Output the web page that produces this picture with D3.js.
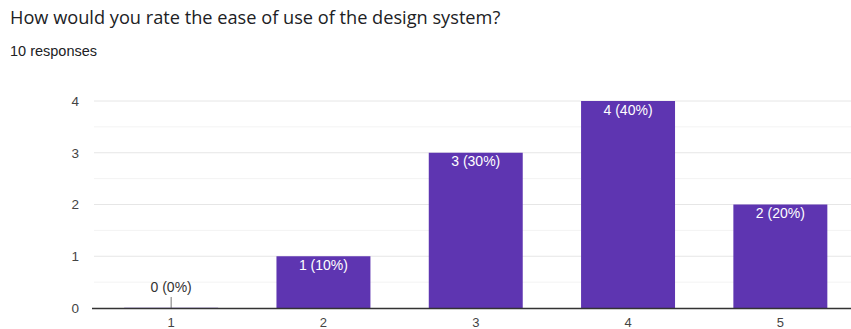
<!DOCTYPE html>
<html>
<head>
<meta charset="utf-8">
<script src="https://cdn.jsdelivr.net/npm/d3@7"></script>
<style>
  body { margin: 0; background: #fff; font-family: "Liberation Sans", Arial, sans-serif; }
  svg { display: block; }
</style>
</head>
<body>
<script>
var width = 851
var height = 329
var font = "'Liberation Sans', Arial, sans-serif"

// data
var ratings = ["1", "2", "3", "4", "5"]
var counts = [0, 1, 3, 4, 2]
var percents = ["0%", "10%", "30%", "40%", "20%"]
var yTicks = [0, 1, 2, 3, 4]

var svg = d3.select("body").append("svg")
    .attr("width", width).attr("height", height)
    .style("font-family", font)

svg.append("text")
    .attr("x", 10).attr("y", 24)
    .style("font-family", "'Open Sans', sans-serif")
    .style("font-size", "18.2px")
    .style("fill", "#202124")
    .text("How would you rate the ease of use of the design system?")

svg.append("text")
    .attr("x", 10).attr("y", 55.5)
    .style("font-size", "14.5px")
    .style("fill", "#202124")
    .text("10 responses")

var x = d3.scaleBand()
    .domain(ratings)
    .range([95, 856.5])
    .paddingInner(0.383)
    .paddingOuter(0.1915)

var y = d3.scaleLinear()
    .domain([0, 4])
    .range([308, 101])

// minor gridlines
svg.append("g").selectAll("line")
    .data([0.5, 1.5, 2.5, 3.5])
    .enter().append("line")
    .attr("x1", 94).attr("x2", width)
    .attr("y1", function(d) { return y(d) }).attr("y2", function(d) { return y(d) })
    .attr("stroke", "#f3f3f3")

// major gridlines
svg.append("g").selectAll("line")
    .data(yTicks.slice(1))
    .enter().append("line")
    .attr("x1", 94).attr("x2", width)
    .attr("y1", function(d) { return y(d) }).attr("y2", function(d) { return y(d) })
    .attr("stroke", "#e6e6e6")

var lAxis = d3.axisLeft(y).tickValues(yTicks).tickFormat(d3.format("d")).tickSize(0).tickPadding(15)
svg.append("g")
    .attr("transform", "translate(94,0)")
    .call(lAxis)
    .call(function(g) { g.select(".domain").remove() })
    .selectAll("text")
    .style("font-family", font)
    .style("font-size", "13.5px")
    .style("fill", "#444")

svg.append("g").selectAll("rect")
    .data(counts)
    .enter().append("rect")
    .attr("x", function(d, i) { return x(ratings[i]) })
    .attr("width", x.bandwidth())
    .attr("y", function(d) { return y(d) - (d === 0 ? 1 : 0) })
    .attr("height", function(d) { return d === 0 ? 1 : y(0) - y(d) })
    .attr("fill", function(d) { return d === 0 ? "#d9d0ee" : "#5e35b1" })

// labels
svg.append("g").selectAll("text")
    .data(counts)
    .enter().append("text")
    .attr("x", function(d, i) { return x(ratings[i]) + x.bandwidth() / 2 })
    .attr("y", function(d) { return d === 0 ? y(0) - 16 : y(d) + 13.5 })
    .attr("text-anchor", "middle")
    .style("font-size", "14px")
    .style("fill", function(d) { return d === 0 ? "#333" : "#fff" })
    .text(function(d, i) { return d + " (" + percents[i] + ")" })

// leader for zero bar
svg.append("g").selectAll("line")
    .data(counts.filter(function(d) { return d === 0 }))
    .enter().append("line")
    .attr("x1", x(ratings[0]) + x.bandwidth() / 2)
    .attr("x2", x(ratings[0]) + x.bandwidth() / 2)
    .attr("y1", y(0) - 11).attr("y2", y(0))
    .attr("stroke", "#777")

var bAxis = d3.axisBottom(x).tickSize(0).tickPadding(9.5)
svg.append("g")
    .attr("transform", "translate(0,308)")
    .call(bAxis)
    .call(function(g) { g.select(".domain").remove() })
    .selectAll("text")
    .style("font-family", font)
    .style("font-size", "13px")
    .style("fill", "#444")

svg.append("line")
    .attr("x1", 92).attr("x2", width)
    .attr("y1", 308.5).attr("y2", 308.5)
    .attr("stroke", "#333").attr("stroke-width", 1.5)
</script>
</body>
</html>
